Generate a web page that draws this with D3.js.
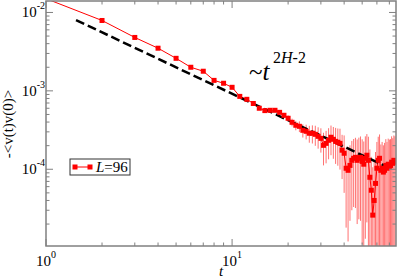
<!DOCTYPE html>
<html>
<head>
<meta charset="utf-8">
<script src="https://cdn.jsdelivr.net/npm/d3@7"></script>
<style>
  body { margin: 0; background: white; }
</style>
</head>
<body>
<div id="chart"></div>
<script>
// chart size
const width = 399;
const height = 279;
const serif = "'Liberation Serif', 'Times New Roman', Times, serif";

// data: correlation vs time lag t
const times = [1, 2, 3, 4, 5, 6, 7, 8, 9, 10, 11, 12, 13, 14, 15,
  16, 17, 18, 19, 20, 21, 22, 23, 24, 25, 26, 27, 28, 29, 30,
  31, 32, 33, 34, 35, 36, 37, 38, 39, 40, 41, 42, 43, 44, 45,
  46, 47, 48, 49, 50, 51, 52, 53, 54, 55, 56, 57, 58, 59, 60,
  61, 62, 63, 64, 65, 66, 67, 68, 69, 70, 71, 72, 73, 74, 75];
const corr = [1.5e-2, 7.9e-3, 4.8e-3, 3.5e-3, 2.6e-3, 2.0e-3, 1.78e-3, 1.36e-3, 1.25e-3, 1.11e-3,
  8.5e-4, 7.8e-4, 6.9e-4, 6.0e-4, 5.6e-4,
  5.65e-4, 5.65e-4, 5.32e-4, 4.88e-4, 4.47e-4, 3.97e-4, 3.64e-4, 3.53e-4, 3.14e-4, 3.05e-4,
  2.88e-4, 2.88e-4, 2.79e-4, 2.63e-4, 2.48e-4, 2.02e-4, 2.14e-4, 2.34e-4, 2.56e-4, 2.41e-4,
  2.27e-4, 2.21e-4, 2.14e-4, 1.75e-4, 1.60e-4, 1.03e-4, 0.97e-4, 1.12e-4, 1.30e-4, 1.38e-4,
  1.42e-4, 1.30e-4, 1.38e-4, 1.42e-4, 1.26e-4, 1.16e-4, 1.38e-4, 1.51e-4, 1.30e-4, 0.79e-4,
  0.54e-4, 0.26e-4, 0.40e-4, 0.66e-4, 1.03e-4, 1.30e-4, 1.38e-4, 0.97e-4, 1.03e-4, 0.92e-4,
  0.97e-4, 1.12e-4, 1.03e-4, 1.16e-4, 1.09e-4, 1.12e-4, 1.23e-4, 1.19e-4, 1.30e-4, 1.23e-4];
const corrErr = [0, 0, 0, 0, 0, 0, 0, 0, 0, 0, 0, 0, 0, 0, 0,
  0.25e-4, 0.3e-4, 0.3e-4, 0.35e-4, 0.4e-4, 0.45e-4, 0.5e-4, 0.55e-4, 0.6e-4, 0.65e-4,
  0.7e-4, 0.75e-4, 0.8e-4, 0.8e-4, 0.85e-4, 0.9e-4, 0.95e-4, 1.0e-4, 1.05e-4, 1.05e-4,
  1.1e-4, 1.1e-4, 1.15e-4, 1.0e-4, 1.1e-4, 0.85e-4, 0.85e-4, 0.9e-4, 1.0e-4, 1.05e-4,
  1.1e-4, 1.1e-4, 1.15e-4, 1.2e-4, 1.15e-4, 1.1e-4, 1.25e-4, 1.3e-4, 1.3e-4, 1.0e-4,
  0.9e-4, 0.8e-4, 0.9e-4, 1.0e-4, 1.2e-4, 1.3e-4, 1.4e-4, 1.1e-4, 1.2e-4, 1.1e-4,
  1.2e-4, 1.3e-4, 1.2e-4, 1.3e-4, 1.3e-4, 1.3e-4, 1.4e-4, 1.3e-4, 1.4e-4, 1.4e-4];

// power-law guide ~ t^(2H-2)
const guideT = [1.45, 67];
const guideV = [8.0e-3, 1.09e-4];

const legendLabel = "=96";

const plotL = 46, plotR = 396, plotT = 1, plotB = 246;
const red = "#ff0000";
const frameCol = "#808080";

const svg = d3.select("#chart").append("svg")
  .attr("width", width).attr("height", height)
  .attr("font-family", serif);

const x = d3.scaleLog().domain([1, 76]).range([plotL, plotR]);
const y = d3.scaleLog().domain([1.05e-5, 1.4e-2]).range([plotB, plotT]);

const data = times.map((t, i) => ({ t: t, v: corr[i], e: corrErr[i] }));

svg.append("clipPath").attr("id", "clip")
  .append("rect").attr("x", plotL).attr("y", plotT)
  .attr("width", plotR - plotL).attr("height", plotB - plotT);

const plot = svg.append("g").attr("clip-path", "url(#clip)");

// error bars
plot.selectAll(".err")
  .data(data.filter(d => d.e > 0))
  .enter().append("line")
  .attr("class", "err")
  .attr("x1", d => x(d.t)).attr("x2", d => x(d.t))
  .attr("y1", d => y(d.v + d.e))
  .attr("y2", d => (d.v - d.e) > 0 ? y(d.v - d.e) : plotB + 5)
  .attr("stroke", "#ff7070")
  .attr("stroke-width", 1);

// data line
plot.append("path")
  .datum(data)
  .attr("d", d3.line().x(d => x(d.t)).y(d => y(d.v)))
  .attr("fill", "none")
  .attr("stroke", red)
  .attr("stroke-width", 1);

// guide line
plot.append("line")
  .attr("x1", x(guideT[0])).attr("y1", y(guideV[0]))
  .attr("x2", x(guideT[1])).attr("y2", y(guideV[1]))
  .attr("stroke", "black")
  .attr("stroke-width", 2.5)
  .attr("stroke-dasharray", "9,4");

// markers
plot.selectAll(".pt")
  .data(data)
  .enter().append("rect")
  .attr("class", "pt")
  .attr("x", d => x(d.t) - 2.5).attr("y", d => y(d.v) - 2.5)
  .attr("width", 5).attr("height", 5)
  .attr("fill", red);

// frame
svg.append("rect")
  .attr("x", plotL).attr("y", plotT)
  .attr("width", plotR - plotL).attr("height", plotB - plotT)
  .attr("fill", "none").attr("stroke", frameCol).attr("stroke-width", 1.5);

// ticks
const xMajor = [1, 10];
const xMinor = [2, 3, 4, 5, 6, 7, 8, 9, 20, 30, 40, 50, 60, 70];
const yMajor = [1e-4, 1e-3, 1e-2];
const yMinor = [];
[1e-5, 1e-4, 1e-3].forEach(dec => {
  for (let k = 2; k <= 9; k++) yMinor.push(k * dec);
});
const yMinorIn = yMinor.filter(v => v >= y.domain()[0] && v <= y.domain()[1]);

const ticks = svg.append("g").attr("stroke", frameCol).attr("stroke-width", 1);
function xTick(v, len) {
  ticks.append("line").attr("x1", x(v)).attr("x2", x(v)).attr("y1", plotB).attr("y2", plotB - len);
  ticks.append("line").attr("x1", x(v)).attr("x2", x(v)).attr("y1", plotT).attr("y2", plotT + len);
}
function yTick(v, len) {
  ticks.append("line").attr("y1", y(v)).attr("y2", y(v)).attr("x1", plotL).attr("x2", plotL + len);
  ticks.append("line").attr("y1", y(v)).attr("y2", y(v)).attr("x1", plotR).attr("x2", plotR - len);
}
xMajor.forEach(v => xTick(v, 7));
xMinor.forEach(v => xTick(v, 3.5));
yMajor.forEach(v => yTick(v, 7));
yMinorIn.forEach(v => yTick(v, 3.5));

// tick labels
const xExp = ["0", "1"];
xMajor.forEach((v, i) => {
  const t = svg.append("text").attr("x", x(v)).attr("y", 266)
    .attr("text-anchor", "middle").attr("font-size", 15);
  t.append("tspan").text("10");
  t.append("tspan").attr("dy", -8).attr("font-size", 10).text(xExp[i]);
});
const yExp = ["-4", "-3", "-2"];
yMajor.forEach((v, i) => {
  const t = svg.append("text").attr("x", 45).attr("y", y(v) + 5)
    .attr("text-anchor", "end").attr("font-size", 15);
  t.append("tspan").text("10");
  t.append("tspan").attr("dy", -8).attr("font-size", 10).text(yExp[i]);
});

// axis titles
svg.append("text").attr("x", 221).attr("y", 276)
  .attr("text-anchor", "middle").attr("font-size", 15).attr("font-style", "italic")
  .text("t");
svg.append("text")
  .attr("transform", "translate(13,124) rotate(-90)")
  .attr("text-anchor", "middle").attr("font-size", 15)
  .text("-<v(t)v(0)>");

// annotation
const ann = svg.append("text").attr("x", 249).attr("y", 80).attr("font-size", 25);
ann.append("tspan").text("~");
ann.append("tspan").attr("font-style", "italic").text("t");
const sup = svg.append("text").attr("x", 273).attr("y", 63).attr("font-size", 16);
sup.append("tspan").text("2");
sup.append("tspan").attr("font-style", "italic").text("H");
sup.append("tspan").text("-2");

// legend
const lg = svg.append("g");
lg.append("rect").attr("x", 70).attr("y", 159).attr("width", 60).attr("height", 16)
  .attr("fill", "white").attr("stroke", "#333").attr("stroke-width", 1);
lg.append("line").attr("x1", 75).attr("x2", 90).attr("y1", 167).attr("y2", 167)
  .attr("stroke", red).attr("stroke-width", 1);
[75, 90].forEach(px => {
  lg.append("rect").attr("x", px - 2.5).attr("y", 164.5).attr("width", 5).attr("height", 5)
    .attr("fill", red);
});
const lt = lg.append("text").attr("x", 96).attr("y", 172).attr("font-size", 15);
lt.append("tspan").attr("font-style", "italic").text("L");
lt.append("tspan").text(legendLabel);
</script>
</body>
</html>
